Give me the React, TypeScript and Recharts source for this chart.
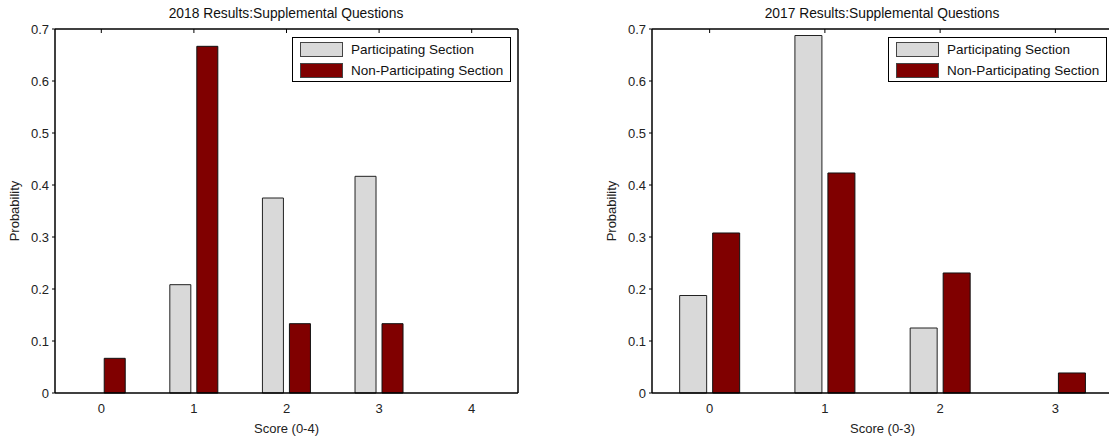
import { BarChart, Bar, XAxis, YAxis } from 'recharts';

// score categories and probabilities
const scores2018 = ['0', '1', '2', '3', '4'];
const participating2018 = [0, 0.2083, 0.375, 0.4167, 0];
const nonParticipating2018 = [0.0667, 0.6667, 0.1333, 0.1333, 0];

const scores2017 = ['0', '1', '2', '3'];
const participating2017 = [0.1875, 0.6875, 0.125, 0];
const nonParticipating2017 = [0.3077, 0.4231, 0.2308, 0.0385];

const yTicks = [0, 0.1, 0.2, 0.3, 0.4, 0.5, 0.6, 0.7];

const FONT = '"Liberation Sans", Arial, sans-serif';
const GRAY = '#d9d9d9';
const MAROON = '#800000';

const buildRows = (scores: string[], part: number[], nonPart: number[]) =>
  scores.map((s, i) => ({ score: s, part: part[i], nonPart: nonPart[i] }));

const data2018 = buildRows(scores2018, participating2018, nonParticipating2018);
const data2017 = buildRows(scores2017, participating2017, nonParticipating2017);

const tickStyle = { fontSize: 13, fill: '#222', fontFamily: FONT };

function LegendBox({ left }: { left: number }) {
  const items = [
    { label: 'Participating Section', color: GRAY },
    { label: 'Non-Participating Section', color: MAROON },
  ];
  return (
    <div
      style={{
        position: 'absolute',
        left,
        top: 37,
        width: 219,
        height: 45,
        boxSizing: 'border-box',
        border: '1px solid #000',
        background: '#fff',
        fontFamily: FONT,
        fontSize: 13.5,
        color: '#111',
      }}
    >
      {items.map((it, i) => (
        <div key={it.label} style={{ position: 'absolute', left: 7, top: 4 + i * 20.5, height: 15, display: 'flex', alignItems: 'center' }}>
          <div style={{ width: 43, height: 15, boxSizing: 'border-box', background: it.color, border: '1px solid #444' }} />
          <span style={{ marginLeft: 8, whiteSpace: 'nowrap' }}>{it.label}</span>
        </div>
      ))}
    </div>
  );
}

function Panel({ data, left, yAxisWidth, rightMargin, xLabel }: any) {
  return (
    <div style={{ position: 'absolute', left, top: 0, width: 560, height: 436 }}>
      <BarChart
        width={560}
        height={436}
        data={data}
        margin={{ top: 29, right: rightMargin, bottom: 0, left: 0 }}
        barCategoryGap="24%"
        barGap={6}
      >
        <XAxis
          dataKey="score"
          height={43}
          tickLine={false}
          tickMargin={5}
          axisLine={{ stroke: '#000', strokeWidth: 1.5 }}
          tick={tickStyle}
          label={{ value: xLabel, position: 'insideBottom', offset: 3, style: tickStyle }}
        />
        <XAxis
          xAxisId="top"
          dataKey="score"
          orientation="top"
          height={1}
          mirror
          tickSize={4}
          tickFormatter={() => ''}
          axisLine={{ stroke: '#000', strokeWidth: 1.5 }}
          tickLine={{ stroke: '#000' }}
        />
        <YAxis
          width={yAxisWidth}
          domain={[0, 0.7]}
          ticks={yTicks}
          interval={0}
          tickSize={3}
          tickMargin={3}
          axisLine={{ stroke: '#000', strokeWidth: 1.5 }}
          tickLine={{ stroke: '#000' }}
          tick={tickStyle}
          label={{ value: 'Probability', angle: -90, position: 'insideLeft', offset: yAxisWidth - 41, style: { ...tickStyle, textAnchor: 'middle' } }}
        />
        <YAxis
          yAxisId="right"
          orientation="right"
          width={1}
          domain={[0, 0.7]}
          ticks={yTicks}
          interval={0}
          mirror
          tickSize={4}
          tickFormatter={() => ''}
          axisLine={{ stroke: '#000', strokeWidth: 1.5 }}
          tickLine={{ stroke: '#000' }}
        />
        <Bar dataKey="part" name="Participating Section" fill={GRAY} stroke="#222" strokeWidth={1} isAnimationActive={false} />
        <Bar dataKey="nonPart" name="Non-Participating Section" fill={MAROON} stroke="#111" strokeWidth={1} isAnimationActive={false} />
      </BarChart>
    </div>
  );
}

export default function App() {
  return (
    <div style={{ position: 'absolute', left: 0, top: 0, width: 1109, height: 436, overflow: 'hidden', background: '#fff' }}>
      <Panel data={data2018} left={0} yAxisWidth={55} rightMargin={42} xLabel="Score (0-4)" />
      <Panel data={data2017} left={560} yAxisWidth={92} rightMargin={7} xLabel="Score (0-3)" />
      <div style={{ position: 'absolute', left: 55, width: 462, top: 6, textAlign: 'center', fontFamily: FONT, fontSize: 13.8, color: '#111' }}>
        2018 Results:Supplemental Questions
      </div>
      <div style={{ position: 'absolute', left: 652, width: 460, top: 6, textAlign: 'center', fontFamily: FONT, fontSize: 13.8, color: '#111' }}>
        2017 Results:Supplemental Questions
      </div>
      <LegendBox left={292} />
      <LegendBox left={888} />
    </div>
  );
}
